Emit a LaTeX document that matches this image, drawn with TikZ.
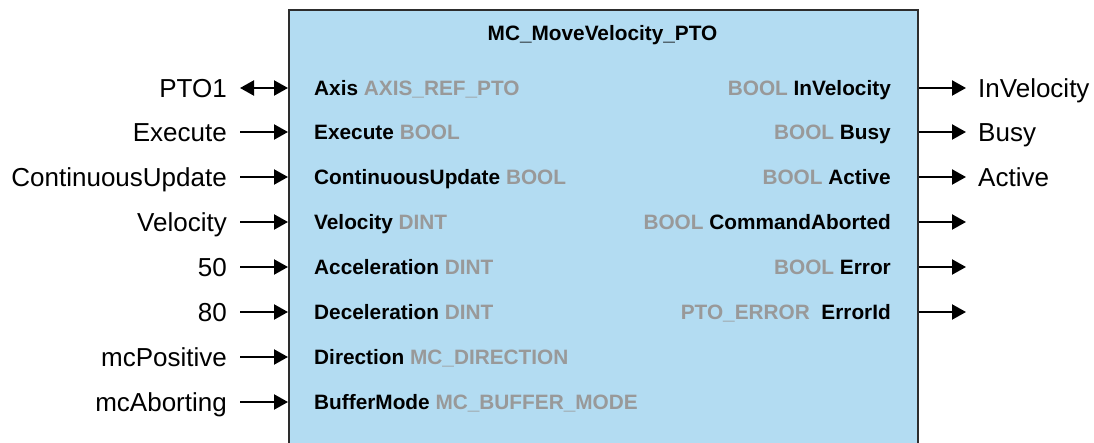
\documentclass[tikz,border=0pt]{standalone}
\usepackage{fontspec}
\setmainfont{Liberation Sans}
\usetikzlibrary{arrows.meta}
\definecolor{fbfill}{RGB}{179,220,242}
\definecolor{fbline}{RGB}{45,45,45}
\definecolor{typegray}{RGB}{153,153,153}
\newcommand{\ty}[1]{\textcolor{typegray}{#1}}
\tikzset{
  fbbox/.style={draw=fbline, fill=fbfill, line width=2pt, minimum width=629pt, minimum height=480pt, anchor=north west, inner sep=0pt},
  outl/.style={font=\fontsize{26}{28}\selectfont, text height=18.6pt, text depth=0pt, inner ysep=0pt, inner xsep=13pt},
  inl/.style={font=\fontsize{20.8}{24}\selectfont\bfseries, text height=15pt, text depth=0pt, inner sep=0pt},
  tip/.tip={Triangle[length=14pt,width=15pt]},
  arr/.style={line width=2.2pt, -tip},
  darr/.style={line width=2.2pt, tip-tip}
}
\begin{document}
\begin{tikzpicture}[x=1pt,y=-1pt]
\clip (0,0) rectangle (1094,443);
\useasboundingbox (0,0) rectangle (1094,443);
\node[fbbox] (fb) at (288,9) {};
\node[inl, anchor=center] (title) at (602.5,33) {MC\_MoveVelocity\_PTO};
% left outer labels
\node[outl, anchor=east] (l1) at (240,88) {PTO1};
\node[outl, anchor=east] (l2) at (240,132) {Execute};
\node[outl, anchor=east] (l3) at (240,177) {ContinuousUpdate};
\node[outl, anchor=east] (l4) at (240,222) {Velocity};
\node[outl, anchor=east] (l5) at (240,267) {50};
\node[outl, anchor=east] (l6) at (240,312) {80};
\node[outl, anchor=east] (l7) at (240,357) {mcPositive};
\node[outl, anchor=east] (l8) at (240,402) {mcAborting};
% left inner labels
\node[inl, anchor=west] (i1) at (314,88) {Axis \ty{AXIS\_REF\_PTO}};
\node[inl, anchor=west] (i2) at (314,132) {Execute \ty{BOOL}};
\node[inl, anchor=west] (i3) at (314,177) {ContinuousUpdate \ty{BOOL}};
\node[inl, anchor=west] (i4) at (314,222) {Velocity \ty{DINT}};
\node[inl, anchor=west] (i5) at (314,267) {Acceleration \ty{DINT}};
\node[inl, anchor=west] (i6) at (314,312) {Deceleration \ty{DINT}};
\node[inl, anchor=west] (i7) at (314,357) {Direction \ty{MC\_DIRECTION}};
\node[inl, anchor=west] (i8) at (314,402) {BufferMode \ty{MC\_BUFFER\_MODE}};
% right inner labels
\node[inl, anchor=east] (o1) at (891,88) {\ty{BOOL} InVelocity};
\node[inl, anchor=east] (o2) at (891,132) {\ty{BOOL} Busy};
\node[inl, anchor=east] (o3) at (891,177) {\ty{BOOL} Active};
\node[inl, anchor=east] (o4) at (891,222) {\ty{BOOL} CommandAborted};
\node[inl, anchor=east] (o5) at (891,267) {\ty{BOOL} Error};
\node[inl, anchor=east] (o6) at (891,312) {\ty{PTO\_ERROR}\ \ ErrorId};
% right outer labels
\node[outl, anchor=west, inner xsep=12pt] (r1) at (966,88) {InVelocity};
\node[outl, anchor=west, inner xsep=12pt] (r2) at (966,132) {Busy};
\node[outl, anchor=west, inner xsep=12pt] (r3) at (966,177) {Active};
\coordinate (r4) at (966,222);
\coordinate (r5) at (966,267);
\coordinate (r6) at (966,312);
% connectors
\draw[darr] (l1) -- (fb.west |- l1);
\foreach \n in {2,...,8} {\draw[arr] (l\n) -- (fb.west |- l\n);}
\foreach \n in {1,2,3} {\draw[arr] (fb.east |- r\n) -- (r\n);}
\foreach \n in {4,5,6} {\draw[arr] (fb.east |- r\n) -- (r\n);}
\end{tikzpicture}
\end{document}
